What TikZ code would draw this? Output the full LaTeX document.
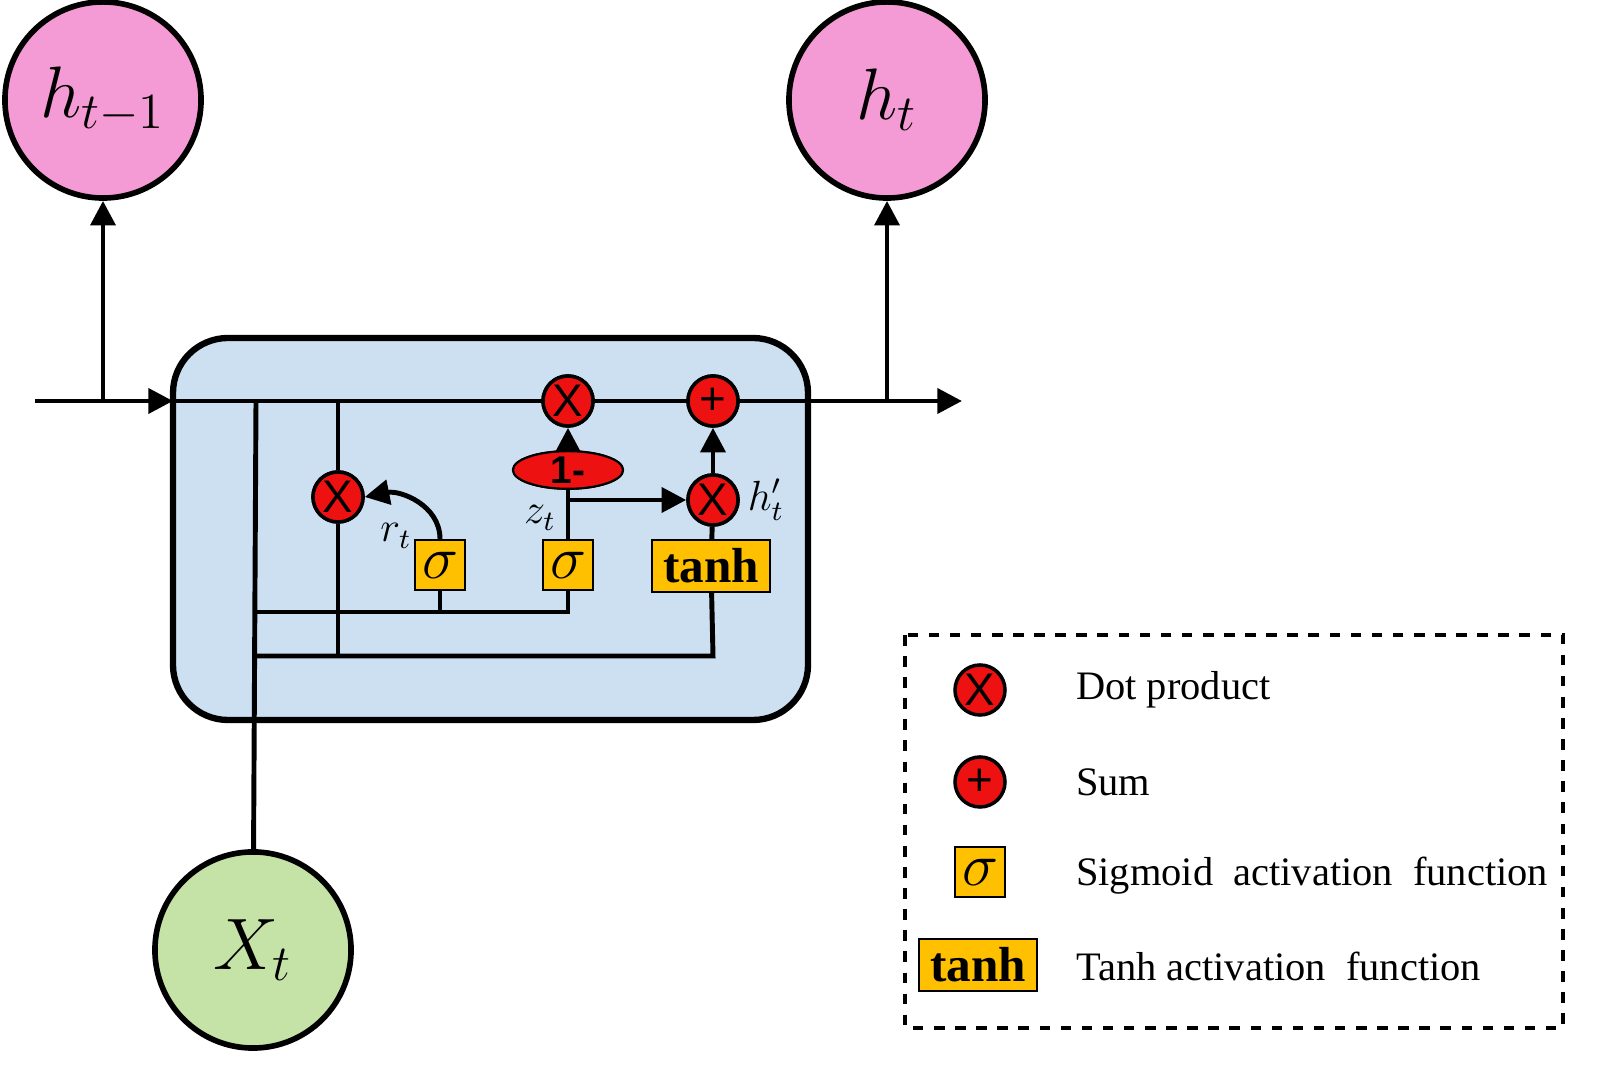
\documentclass[tikz,border=0pt]{standalone}
\usepackage{fontspec}
\setmainfont{Liberation Serif}
\newfontfamily\sansf{Liberation Sans}
\usetikzlibrary{shapes.geometric,arrows.meta}
\definecolor{pinkc}{HTML}{F49AD4}
\definecolor{greenc}{HTML}{C5E3A6}
\definecolor{boxc}{HTML}{CCE0F2}
\definecolor{redc}{HTML}{EE1111}
\definecolor{yelc}{HTML}{FFC000}
\begin{document}
\begin{tikzpicture}[x=0.01cm,y=-0.01cm,line width=1.4pt,
 >={Triangle[length=7pt,width=7pt]},
 big/.style={circle,draw,line width=1.6pt,minimum size=1.96cm,inner sep=0pt,font=\fontsize{22}{24}\selectfont\itshape},
 gate/.style={circle,draw,fill=redc,minimum size=0.5cm,inner sep=0pt,line width=1pt,font=\sansf\fontsize{13}{13}\selectfont},
 sig/.style={draw,fill=yelc,minimum size=0.5cm,inner sep=0pt,line width=0.6pt,font=\fontsize{16}{16}\selectfont\bfseries\itshape},
 tnh/.style={draw,fill=yelc,minimum width=1.18cm,minimum height=0.52cm,inner sep=0pt,line width=0.6pt,font=\fontsize{14}{14}\selectfont\bfseries},
 lbl/.style={font=\fontsize{12}{14}\selectfont\itshape},
 leg/.style={anchor=west,font=\fontsize{11.5}{14}\selectfont}]
\useasboundingbox (0,0) rectangle (1600,1077);
% cell box
\draw[fill=boxc,line width=1.8pt,rounded corners=0.55cm] (173,338) rectangle (808,720);
% big nodes
\node[big,fill=pinkc] (hp) at (103,100) {$h_{t-1}$};
\node[big,fill=pinkc] (hn) at (887,100) {$h_t$};
\node[big,fill=greenc] (x) at (253,950) {$X_t$};
% gates
\node[gate] (m1) at (568,401) {X};
\node[gate] (s1) at (713,401) {+};
\node[gate] (mr) at (338,497) {X};
\node[gate] (mh) at (713,500) {X};
\node[ellipse,draw,fill=redc,minimum width=1.1cm,minimum height=0.3cm,inner sep=0pt,line width=0.6pt,font=\sansf\bfseries\fontsize{11}{11}\selectfont] (om) at (568,470) {1-};
\node[sig] (sr) at (440,565) {$\sigma$};
\node[sig] (sz) at (568,565) {$\sigma$};
\node[tnh] (th) at (711,566) {tanh};
% coordinates
\coordinate (in) at (35,401);
\coordinate (bl) at (173,401);
\coordinate (out) at (962,401);
\coordinate (j1) at (103,401);
\coordinate (j2) at (887,401);
\coordinate (a) at (256,401);
\coordinate (b) at (338,401);
\coordinate (b2) at (338,656);
\coordinate (c1) at (256,612);
\coordinate (c2) at (568,612);
\coordinate (c3) at (440,612);
\coordinate (d1) at (256,656);
\coordinate (d2) at (713,656);
\coordinate (zj) at (568,500);
% lines
\draw[->] (in) -- (bl);
\draw[->] (bl) -- (out);
\draw[->] (j1) -- (hp);
\draw[->] (j2) -- (hn);
\draw (a) -- (x);
\draw (b) -- (mr) -- (b2);
\draw (c1) -- (c2) -- (sz);
\draw (c3) -- (sr);
\draw (d1) -- (d2) -- (th);
\draw (th) -- (mh);
\draw[->] (mh) -- (s1);
\draw (sz) -- (om);
\draw[->] (om) -- (m1);
\draw[->] (zj) -- (mh);
\draw[->] (sr.north) .. controls (440,505) and (400,490) .. (mr.east);
% redraw nodes over lines
\node[gate] at (568,401) {X};
\node[gate] at (713,401) {+};
\node[gate] at (338,497) {X};
\node[gate] at (713,500) {X};
\node[ellipse,draw,fill=redc,minimum width=1.1cm,minimum height=0.3cm,inner sep=0pt,line width=0.6pt,font=\sansf\bfseries\fontsize{11}{11}\selectfont] at (568,470) {1-};
% labels
\node[lbl] (lr) at (396,536) {$r_t$};
\node[lbl] (lz) at (540,518) {$z_t$};
\node[lbl] (lh) at (766,500) {$h_t'$};
% legend
\draw[dashed,line width=1pt] (905,635) rectangle (1563,1028);
\node[gate] (g1) at (980,690) {X};
\node[gate] (g2) at (980,782) {+};
\node[sig] (g3) at (980,872) {$\sigma$};
\node[tnh] (g4) at (978,965) {tanh};
\node[leg] (t1) at (1062,690) {Dot product};
\node[leg] (t2) at (1062,782) {Sum};
\node[leg] (t3) at (1062,876) {Sigmoid\ \ activation\ \ function};
\node[leg] (t4) at (1062,966) {Tanh activation\ \ function};
\end{tikzpicture}
\end{document}
